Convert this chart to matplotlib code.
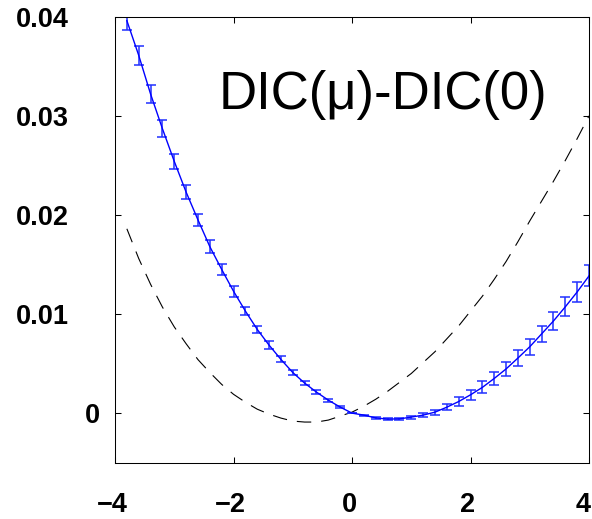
import matplotlib
matplotlib.use('Agg')
import matplotlib.pyplot as plt
import matplotlib.transforms as mtransforms

# chemical potential grid and measured DIC differences
mu = [-3.8, -3.6, -3.4, -3.2, -3.0, -2.8, -2.6, -2.4, -2.2, -2.0,
      -1.8, -1.6, -1.4, -1.2, -1.0, -0.8, -0.6, -0.4, -0.2, 0.0,
      0.2, 0.4, 0.6, 0.8, 1.0, 1.2, 1.4, 1.6, 1.8, 2.0,
      2.2, 2.4, 2.6, 2.8, 3.0, 3.2, 3.4, 3.6, 3.8, 4.0]
dic_sim = [0.0396, 0.0361, 0.0322, 0.0287, 0.0254, 0.0223, 0.0195, 0.0168, 0.0145, 0.0123,
           0.0103, 0.00845, 0.00686, 0.00542, 0.0041, 0.00303, 0.00212, 0.00131, 0.00061, 0.0,
           -0.0002, -0.00048, -0.0006, -0.00058, -0.0004, -0.0002, 0.0001, 0.0006, 0.00117, 0.00185,
           0.0026, 0.0035, 0.00446, 0.00556, 0.0067, 0.008, 0.0093, 0.01073, 0.01223, 0.01385]
dic_err = [0.0009, 0.00093, 0.00091, 0.00084, 0.00076, 0.00072, 0.00064, 0.00067, 0.00059, 0.00054,
           0.00044, 0.00037, 0.00039, 0.0003, 0.00027, 0.00024, 0.0002, 0.00015, 0.0001, 0.0,
           0.00005, 0.0001, 0.0001, 0.00012, 0.00015, 0.0002, 0.00025, 0.0003, 0.0005, 0.0005,
           0.0006, 0.00064, 0.00069, 0.00078, 0.00081, 0.00084, 0.0009, 0.00096, 0.001, 0.00105]
dic_theory = [0.0186, 0.0156, 0.0130, 0.0107, 0.0087, 0.0070, 0.0054, 0.0041, 0.0029, 0.0019,
              0.0011, 0.0004, -0.0001, -0.0005, -0.0008, -0.0009, -0.0009, -0.0007, -0.0003, 0.0001,
              0.0007, 0.0014, 0.0022, 0.0031, 0.0040, 0.0051, 0.0062, 0.0075, 0.0088, 0.0103,
              0.0118, 0.0135, 0.0153, 0.0173, 0.0194, 0.0214, 0.0234, 0.0255, 0.0277, 0.0300]

xticks = [-4, -2, 0, 2, 4]
xticklabels = ['\u22124', '\u22122', '0', '2', '4']
yticks = [0, 0.01, 0.02, 0.03, 0.04]
yticklabels = ['0', '0.01', '0.02', '0.03', '0.04']

plt.rcParams['font.family'] = ['Liberation Sans', 'DejaVu Sans']

fig = plt.figure(figsize=(5.92, 5.19), dpi=100)
ax = fig.add_axes([0.1943, 0.1085, 0.8007, 0.8593])

ax.plot(mu, dic_theory, color='black', lw=0.8, linestyle=(0, (13, 9)))
ax.errorbar(mu, dic_sim, yerr=dic_err, fmt='-', color='#0000ff', lw=1.0,
            ecolor='#2030ff', elinewidth=1.1, capsize=3.6, capthick=1.1)

ax.text(-2.25, 0.0307, 'DIC(\u03bc)-DIC(0)', fontsize=38, ha='left', va='baseline')

ax.set_xlim(-4, 4)
ax.set_ylim(-0.005, 0.04)
ax.set_xticks(xticks)
ax.set_xticklabels(xticklabels, fontsize=19.5, fontweight='bold')
ax.set_yticks(yticks)
ax.set_yticklabels(yticklabels, fontsize=19.5, fontweight='bold')
ax.tick_params(direction='in', length=4.3, width=0.75, top=True, right=True)
ax.tick_params(axis='x', pad=21)
ax.tick_params(axis='y', pad=33)
ax.yaxis.get_major_ticks()[0].set_pad(11)
for s in ax.spines.values():
    s.set_linewidth(0.75)

# nudge x labels a little left, like the original export
for i, lbl in enumerate(ax.get_xticklabels()):
    dx = -6 if i == len(xticks) - 1 else -3
    lbl.set_transform(lbl.get_transform() + mtransforms.ScaledTranslation(dx / 100, 0, fig.dpi_scale_trans))

fig.savefig('out.png', dpi=100)
